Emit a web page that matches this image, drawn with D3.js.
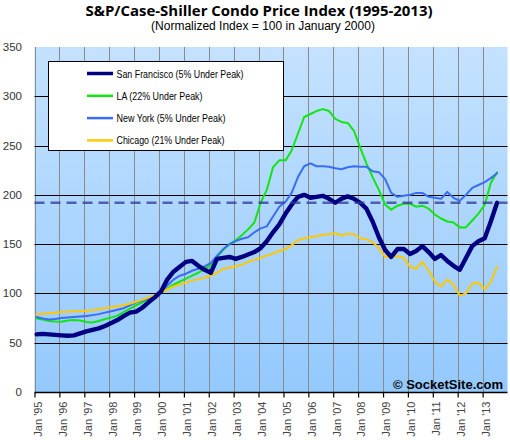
<!DOCTYPE html>
<html>
<head>
<meta charset="utf-8">
<script src="https://cdn.jsdelivr.net/npm/d3@7"></script>
<style>
  html, body { margin: 0; padding: 0; background: #fff; }
  svg { display: block; }
</style>
</head>
<body>
<svg id="chart" width="510" height="440"></svg>
<script>
// ---------------- DATA ----------------
const title = "S&P/Case-Shiller Condo Price Index (1995-2013)";
const subtitle = "(Normalized Index = 100 in January 2000)";
const credit = "\u00A9 SocketSite.com";

// quarterly observations starting Feb 1995 (Feb, May, Aug, Nov), last = Aug 2013
const firstMonth = "1995-02";
const monthStep = 3;

const seriesNames = [
  "San Francisco (5% Under Peak)",
  "LA (22% Under Peak)",
  "New York (5% Under Peak)",
  "Chicago (21% Under Peak)"
];

const sanFrancisco = [
  58.5, 59, 58.5, 58,
  57.5, 57, 57.5, 59.5,
  61.5, 63, 64.5, 67,
  70, 73, 77, 80.5,
  81.5, 85.5, 91, 96,
  102, 114, 122, 127,
  132, 133, 128, 124,
  121, 135, 136, 137,
  135, 137, 139.5, 142,
  146, 153, 162, 170,
  181, 190, 198, 200,
  197, 198, 199, 196,
  192, 196, 198.5, 196,
  192, 186, 173, 157,
  144, 137, 145, 145,
  140, 143, 148, 142,
  135, 139, 133, 128,
  124, 136, 148, 153,
  156, 173, 192
];

const losAngeles = [
  74.5, 73.5, 72, 71.5,
  71.3, 72.5, 73, 72.5,
  71, 70.5, 72, 74,
  75.5, 77.5, 81, 84.5,
  88, 91, 94, 97,
  101, 105, 109, 112,
  115, 118, 121, 125,
  129, 137, 144, 150,
  154, 159, 165, 172,
  192, 205, 228, 235,
  235, 245, 262, 279,
  282, 285, 287, 285,
  277, 274, 273, 265,
  248, 232, 218, 205,
  190, 185, 189, 191,
  191, 188, 189, 186,
  180, 176, 173, 172,
  167, 167, 174, 181,
  190, 212, 223
];

const newYork = [
  76, 74.5, 73.5, 74,
  75, 75.5, 76, 76.5,
  77, 78, 79, 80.5,
  82, 83.5, 85, 88,
  91, 92.5, 95, 97.5,
  102, 108, 114, 118,
  120, 123, 125, 127.5,
  131, 138, 145, 150,
  153, 155.5, 157, 162,
  166, 168, 178, 188,
  193, 202, 218, 229,
  232, 229, 229, 228.5,
  227, 226, 228, 229,
  228.5, 228.5, 224, 223,
  216, 202, 198, 199,
  200, 202, 202, 198,
  197, 196, 203, 197,
  194, 200, 207, 210,
  213, 217, 222
];

const chicago = [
  79, 79.5, 80, 80.5,
  81.5, 81.5, 82, 82,
  82.5, 83, 84, 85,
  86, 87, 88, 89.5,
  91.5, 93.5, 96, 98,
  101, 104, 107, 109,
  111, 113, 114.5, 116,
  118, 121, 125, 126,
  127.5, 129, 132, 134,
  136, 138.5, 140.5, 143,
  145, 149, 154, 156,
  157, 158, 159.5, 160,
  161, 159, 160.5, 160,
  156, 155, 152, 146,
  137, 137, 138, 136,
  127, 125, 132, 123,
  112, 107, 114, 109,
  98, 100, 110, 111,
  104, 112, 127
];

const referenceLevel = 192;   // dashed line

const yTicks = [0, 50, 100, 150, 200, 250, 300, 350];
const xTickYears = [1995,1996,1997,1998,1999,2000,2001,2002,2003,2004,2005,2006,2007,2008,2009,2010,2011,2012,2013];
const xTickLabels = ["Jan '95","Jan '96","Jan '97","Jan '98","Jan '99","Jan '00","Jan '01","Jan '02","Jan '03","Jan '04","Jan '05","Jan '06","Jan '07","Jan '08","Jan '09","Jan '10","Jan '11","Jan '12","Jan '13"];

// ---------------- STYLE / LAYOUT ----------------
const colors = ["#000080", "#11e611", "#3a6cf4", "#ffc800"];
const widths = [4.4, 2, 2, 2];
const plot = { left: 34.5, right: 507.5, top: 47, bottom: 392 };

const svg = d3.select("#chart");
const parseMonth = d3.timeParse("%Y-%m");
const start = parseMonth(firstMonth);
const dates = sanFrancisco.map((_, i) => d3.timeMonth.offset(start, i * monthStep));

const x = d3.scaleTime()
  .domain([new Date(1995, 0, 1), new Date(2014, 0, 1)])
  .range([plot.left, plot.right]);
const y = d3.scaleLinear().domain([0, 350]).range([plot.bottom, plot.top]);

// background gradient
const defs = svg.append("defs");
const grad = defs.append("linearGradient").attr("id", "bg")
  .attr("x1", 0).attr("y1", 0).attr("x2", 0).attr("y2", 1);
grad.append("stop").attr("offset", "0%").attr("stop-color", "#c4e2ff");
grad.append("stop").attr("offset", "100%").attr("stop-color", "#94c9fd");
svg.append("rect")
  .attr("x", plot.left).attr("y", plot.top)
  .attr("width", plot.right - plot.left).attr("height", plot.bottom - plot.top)
  .attr("fill", "url(#bg)");

// vertical grid (gray)
svg.append("g").selectAll("line").data(xTickYears).join("line")
  .attr("x1", d => Math.round(x(new Date(d, 0, 1))) + 0.5)
  .attr("x2", d => Math.round(x(new Date(d, 0, 1))) + 0.5)
  .attr("y1", plot.top).attr("y2", plot.bottom)
  .attr("stroke", "#8a8a8a").attr("stroke-width", 1);

// horizontal grid (black)
svg.append("g").selectAll("line").data(yTicks.filter(v => v > 0 && v < 350)).join("line")
  .attr("x1", plot.left).attr("x2", plot.right)
  .attr("y1", d => Math.round(y(d)) + 0.5).attr("y2", d => Math.round(y(d)) + 0.5)
  .attr("stroke", "#000").attr("stroke-width", 1);

// y labels
svg.append("g").selectAll("text").data(yTicks).join("text")
  .attr("x", 22).attr("y", d => y(d) + 4)
  .attr("text-anchor", "end")
  .attr("font-family", "Liberation Sans, Arial, sans-serif")
  .attr("font-size", 11.5).attr("fill", "#333")
  .text(d => d);

// x axis
const xAxis = d3.axisBottom(x)
  .tickValues(xTickYears.map(yr => new Date(yr, 0, 1)))
  .tickSize(5).tickSizeOuter(0)
  .tickFormat((d, i) => xTickLabels[i]);
const gx = svg.append("g").attr("transform", `translate(0,${plot.bottom + 0.5})`).call(xAxis);
gx.select(".domain").attr("stroke", "#000").attr("stroke-width", 1.3)
  .attr("d", `M${plot.left},0H${plot.right}`);
gx.selectAll(".tick line").attr("stroke", "#000").attr("stroke-width", 1.2);
gx.selectAll(".tick text")
  .attr("font-family", "Liberation Sans, Arial, sans-serif")
  .attr("font-size", 11).attr("fill", "#444")
  .attr("transform", "rotate(-90)")
  .attr("text-anchor", "end")
  .attr("x", -9).attr("y", 3).attr("dy", "0.35em")
  .style("text-anchor", "end");

// lines
const allSeries = [sanFrancisco, losAngeles, newYork, chicago];
const line = d3.line().x((d, i) => x(dates[i])).y(d => y(d)).curve(d3.curveLinear);
const drawOrder = [1, 2, 3, 0];
drawOrder.forEach(k => {
  svg.append("path").datum(allSeries[k])
    .attr("d", line)
    .attr("fill", "none")
    .attr("stroke", colors[k])
    .attr("stroke-width", widths[k])
    .attr("stroke-linejoin", "round")
    .attr("stroke-linecap", "round");
});

// dashed reference line
svg.append("line")
  .attr("x1", plot.left).attr("x2", plot.right)
  .attr("y1", y(referenceLevel)).attr("y2", y(referenceLevel))
  .attr("stroke", "#2c3a9a").attr("stroke-opacity", 0.75)
  .attr("stroke-width", 2.5).attr("stroke-dasharray", "10,6");

// legend
const legendTextWidths = [127, 86, 109, 108];
const lg = svg.append("g");
lg.append("rect").attr("x", 48.5).attr("y", 61.5).attr("width", 235).attr("height", 89)
  .attr("fill", "#fff").attr("stroke", "#000").attr("stroke-width", 1);
seriesNames.forEach((name, i) => {
  const yy = 73.5 + i * 22.3;
  lg.append("line").attr("x1", 87).attr("x2", 113).attr("y1", yy).attr("y2", yy)
    .attr("stroke", colors[i]).attr("stroke-width", i === 0 ? 3.5 : 2.5);
  lg.append("text").attr("x", 116.5).attr("y", yy + 4)
    .attr("font-family", "Liberation Sans Narrow, Liberation Sans, Arial, sans-serif")
    .attr("font-size", 11).attr("fill", "#000")
    .attr("textLength", legendTextWidths[i]).attr("lengthAdjust", "spacingAndGlyphs")
    .text(name);
});

// titles
svg.append("text").attr("x", 259).attr("y", 16).attr("text-anchor", "middle")
  .attr("font-family", "Open Sans, Liberation Sans, sans-serif")
  .attr("font-weight", "bold").attr("font-size", 15).attr("fill", "#000")
  .attr("textLength", 347).attr("lengthAdjust", "spacingAndGlyphs")
  .text(title);
svg.append("text").attr("x", 263).attr("y", 30).attr("text-anchor", "middle")
  .attr("font-family", "Liberation Sans, Arial, sans-serif")
  .attr("font-size", 12).attr("fill", "#000")
  .text(subtitle);

// credit
svg.append("text").attr("x", 503).attr("y", 389).attr("text-anchor", "end")
  .attr("font-family", "Liberation Sans, Arial, sans-serif")
  .attr("font-weight", "bold").attr("font-size", 13).attr("fill", "#000")
  .text(credit);
</script>
</body>
</html>
